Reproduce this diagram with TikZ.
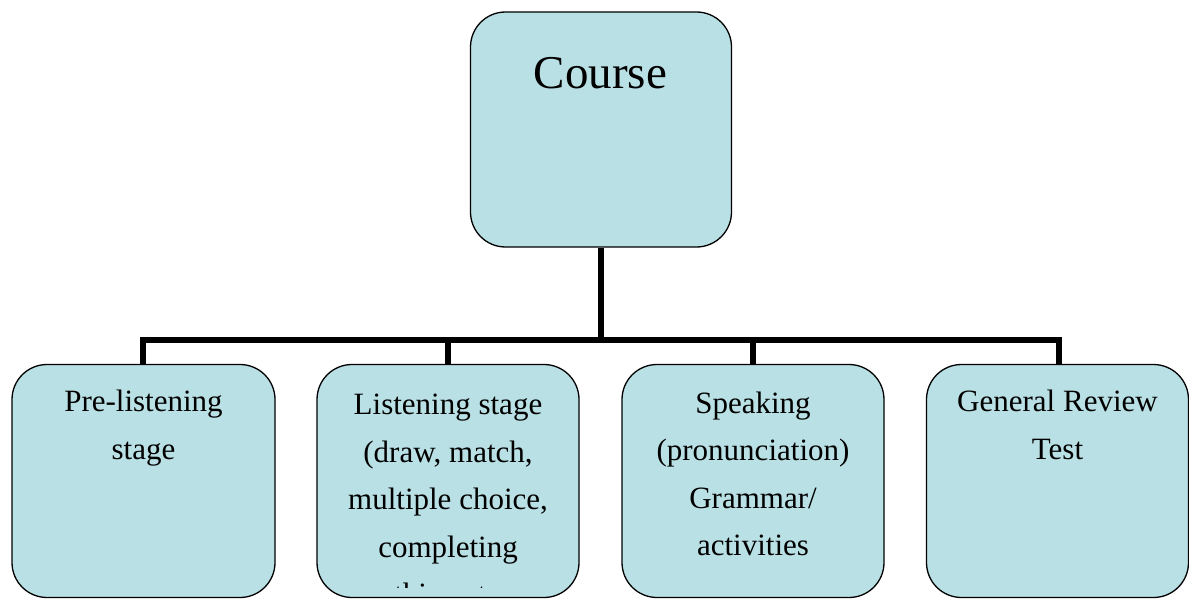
\documentclass[tikz,border=0pt]{standalone}
\usepackage{fontspec}
\setmainfont{Liberation Serif}
\definecolor{boxfill}{HTML}{B9E0E4}
\begin{document}
\begin{tikzpicture}[x=1pt,y=-1pt,
  box/.style={draw=black, line width=1.3pt, fill=boxfill, rounded corners=35pt, inner sep=0pt, shape=rectangle},
  btext/.style={align=center, inner sep=0pt, font=\fontsize{31}{47.5}\selectfont},
  conn/.style={draw=black, line width=6pt}]
\useasboundingbox (0,0) rectangle (1189,599);
\clip (0,0) rectangle (1189,599);
% top box
\node[box, minimum width=261pt, minimum height=235pt] (course) at (601,129.5) {};
\node[anchor=base, inner sep=0pt, font=\fontsize{47}{56}\selectfont] (coursetext) at (600.5,89) {Course};
% bottom boxes
\node[box, minimum width=263pt, minimum height=233pt] (b1) at (143.5,481) {};
\node[box, minimum width=262pt, minimum height=233pt] (b2) at (448,481) {};
\node[box, minimum width=262pt, minimum height=233pt] (b3) at (753,481) {};
\node[box, minimum width=262pt, minimum height=233pt] (b4) at (1057.5,481) {};
% texts (base anchor = baseline of the last line)
\node[btext, anchor=base] (t1) at (143.5,459) {Pre-listening\\stage};
\begin{scope}
\clip (300,370) rectangle (600,587.5);
\node[btext, anchor=base] (t2) at (448,604.5) {Listening stage\\(draw, match,\\multiple choice,\\completing\\things to};
\end{scope}
\node[btext, anchor=base] (t3) at (753,555.5) {Speaking\\(pronunciation)\\Grammar/\\activities};
\node[btext, anchor=base] (t4) at (1057.5,459) {General Review\\Test};
% connectors
\coordinate (bus) at (601,339.7);
\draw[conn] (course.south) -- (course.south |- bus);
\draw[conn] (143,364.5) coordinate (d1) |- (bus) -| (1059,364.5) coordinate (d4);
\draw[conn] (b2.north) -- (b2.north |- bus);
\draw[conn] (b3.north) -- (b3.north |- bus);
\end{tikzpicture}
\end{document}
